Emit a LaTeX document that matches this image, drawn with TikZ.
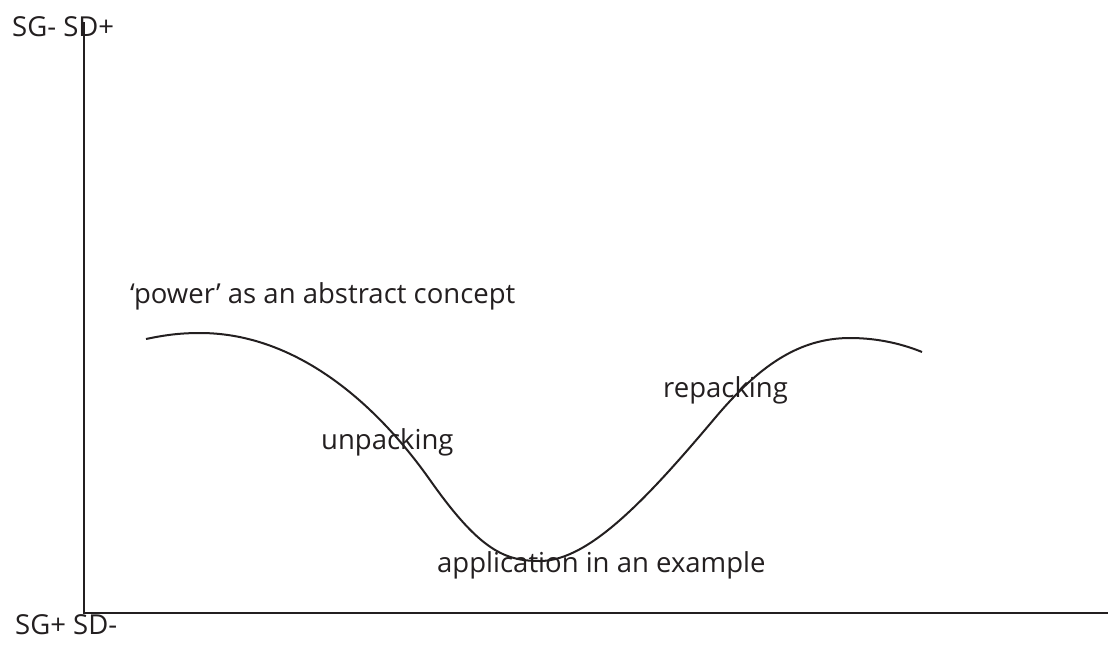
\documentclass[tikz,border=0pt]{standalone}
\usepackage{fontspec}
\setmainfont{Open Sans}
\definecolor{ink}{HTML}{231F20}
\begin{document}
\begin{tikzpicture}[x=1pt,y=-1pt,
  lbl/.style={anchor=base west,inner sep=0pt,text=ink,font=\fontsize{27.5}{33}\selectfont},
  axisline/.style={draw=ink,line width=2.4pt},
  curveline/.style={draw=ink,line width=2pt}]
\useasboundingbox[fill=white] (0,0) rectangle (1110,659);
\coordinate (top) at (84,22);
\coordinate (origin) at (84,613);
\coordinate (right) at (1108,613);
\draw[axisline] (top) -- (origin) -- (right);
\node[lbl] (sdplus) at (12,36) {SG- SD+};
\node[lbl] (sdminus) at (15,634) {SG+ SD-};
\node[lbl] (abstract) at (130,303) {‘power’ as an abstract concept};
\node[lbl] (unpack) at (321,449) {unpacking};
\node[lbl] (repack) at (663,397) {repacking};
\node[lbl] (example) at (437,572) {application in an example};
\coordinate (c0) at (146,339);
\coordinate (c1) at (200,333);
\coordinate (c2) at (430,480);
\coordinate (c3) at (540,561);
\coordinate (c4) at (715,418);
\coordinate (c5) at (850,338);
\coordinate (c6) at (922,352);
\draw[curveline] (c0) .. controls (165,335) and (180,333) .. (c1)
  .. controls (290,333) and (370,395) .. (c2)
  .. controls (480,551) and (505,561) .. (c3)
  .. controls (590,561) and (650,495) .. (c4)
  .. controls (758,367) and (798,338) .. (c5)
  .. controls (880,338) and (905,345) .. (c6);
\end{tikzpicture}
\end{document}
